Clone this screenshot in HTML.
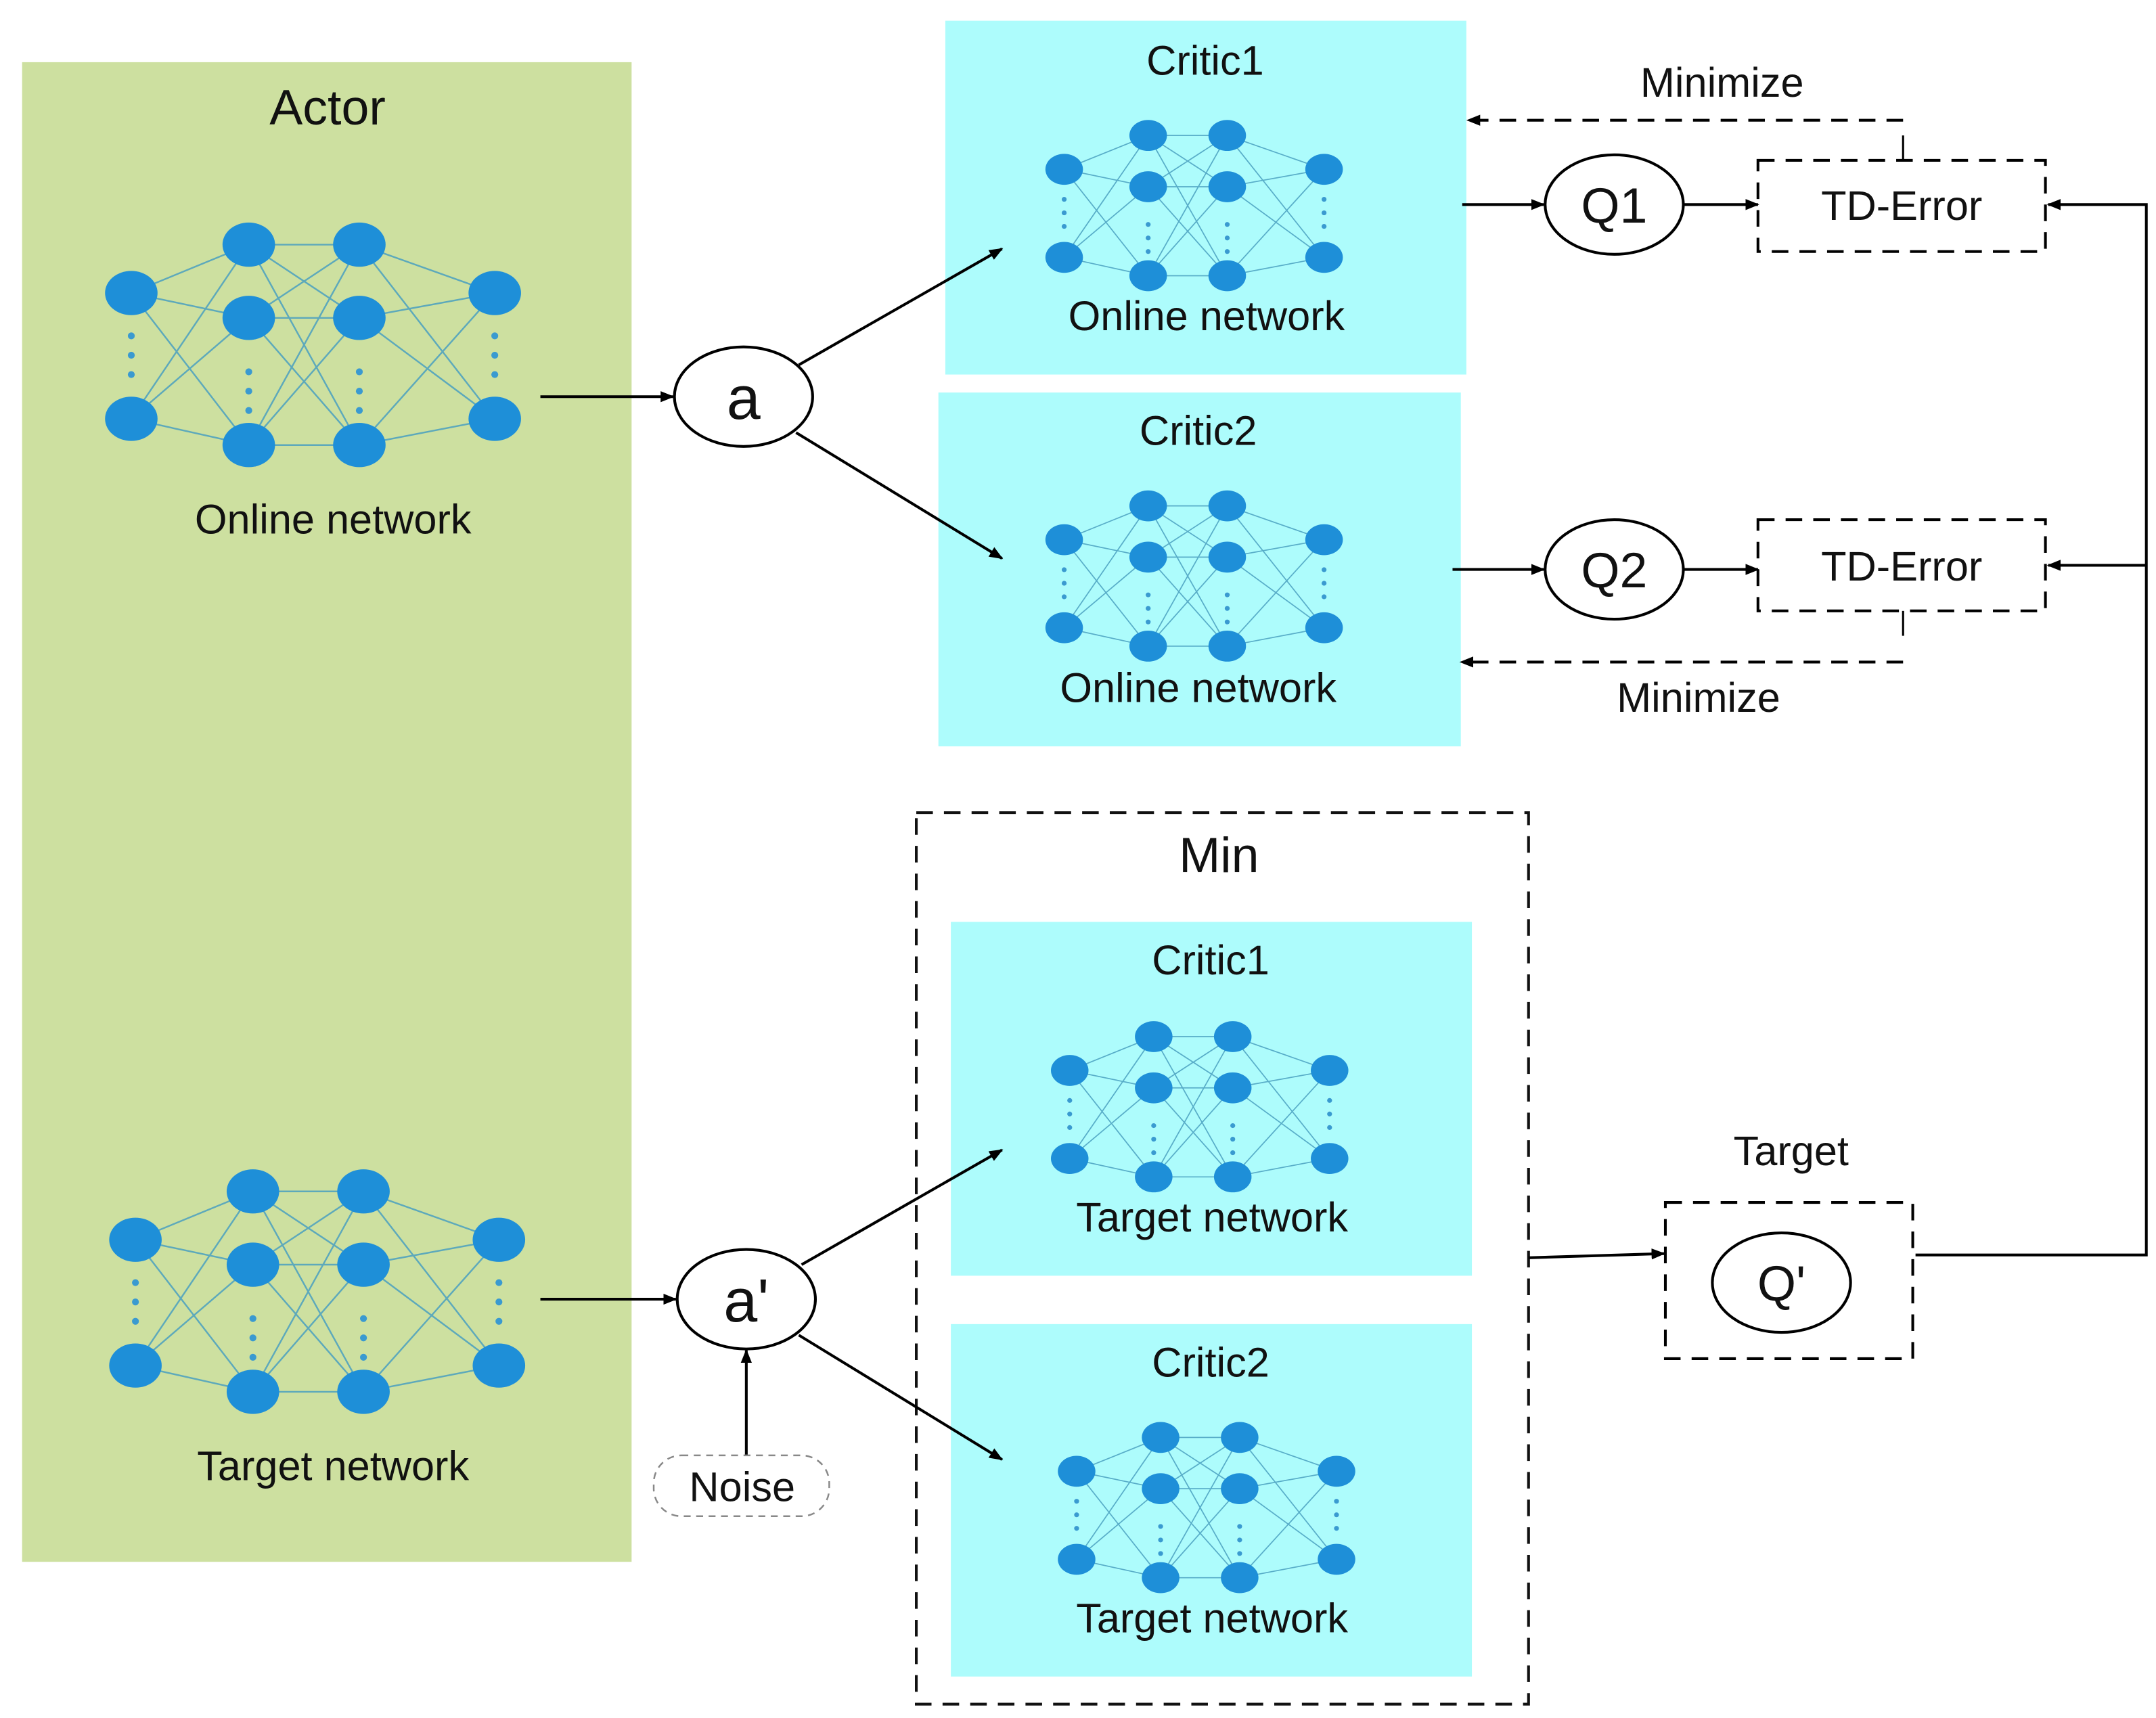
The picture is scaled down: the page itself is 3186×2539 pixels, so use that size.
<!DOCTYPE html>
<html><head><meta charset="utf-8"><style>
html,body{margin:0;padding:0;background:#fff}
svg{display:block}
text{font-family:"Liberation Sans Narrow","Liberation Sans",sans-serif;fill:#111}
</style></head><body>
<svg width="3186" height="2539" viewBox="0 0 1560 1243" preserveAspectRatio="none" xmlns="http://www.w3.org/2000/svg">
<defs>
<marker id="ar" markerWidth="10" markerHeight="10" refX="9" refY="5" orient="auto" markerUnits="userSpaceOnUse">
<path d="M0,1 L10,5 L0,9 Z" fill="#000"/></marker>
<g id="net">
<g stroke="#4aa0c0" stroke-width="1.2" opacity="0.85">
<path d="M0,35L85,0M0,35L85,53M0,35L85,145M0,126L85,0M0,126L85,53M0,126L85,145
M85,0L165,0M85,0L165,53M85,0L165,145M85,53L165,0M85,53L165,53M85,53L165,145M85,145L165,0M85,145L165,53M85,145L165,145
M165,0L263,35M165,0L263,126M165,53L263,35M165,53L263,126M165,145L263,35M165,145L263,126"/>
</g>
<g fill="#1e8fd8">
<ellipse cx="0" cy="35" rx="19" ry="16"/><ellipse cx="0" cy="126" rx="19" ry="16"/>
<ellipse cx="85" cy="0" rx="19" ry="16"/><ellipse cx="85" cy="53" rx="19" ry="16"/><ellipse cx="85" cy="145" rx="19" ry="16"/>
<ellipse cx="165" cy="0" rx="19" ry="16"/><ellipse cx="165" cy="53" rx="19" ry="16"/><ellipse cx="165" cy="145" rx="19" ry="16"/>
<ellipse cx="263" cy="35" rx="19" ry="16"/><ellipse cx="263" cy="126" rx="19" ry="16"/>
</g>
<g fill="#3a9ad0">
<circle cx="0" cy="66" r="2.5"/><circle cx="0" cy="80" r="2.5"/><circle cx="0" cy="94" r="2.5"/>
<circle cx="85" cy="92" r="2.5"/><circle cx="85" cy="106" r="2.5"/><circle cx="85" cy="120" r="2.5"/>
<circle cx="165" cy="92" r="2.5"/><circle cx="165" cy="106" r="2.5"/><circle cx="165" cy="120" r="2.5"/>
<circle cx="263" cy="66" r="2.5"/><circle cx="263" cy="80" r="2.5"/><circle cx="263" cy="94" r="2.5"/>
</g>
</g>
</defs>

<!-- Actor -->
<rect x="16" y="45" width="441" height="1085" fill="#cde0a0"/>
<text x="237" y="90" font-size="36" text-anchor="middle">Actor</text>
<use href="#net" transform="translate(95,177)"/>
<text x="241" y="386" font-size="30" text-anchor="middle">Online network</text>
<use href="#net" transform="translate(98,862)"/>
<text x="241" y="1071" font-size="30" text-anchor="middle">Target network</text>

<!-- Critics online -->
<rect x="684" y="15" width="377" height="256" fill="#adfcfc"/>
<text x="872" y="54" font-size="30" text-anchor="middle">Critic1</text>
<use href="#net" transform="translate(770,98) scale(0.715,0.70)"/>
<text x="873" y="239" font-size="30" text-anchor="middle">Online network</text>

<rect x="679" y="284" width="378" height="256" fill="#adfcfc"/>
<text x="867" y="322" font-size="30" text-anchor="middle">Critic2</text>
<use href="#net" transform="translate(770,366) scale(0.715,0.70)"/>
<text x="867" y="508" font-size="30" text-anchor="middle">Online network</text>

<!-- Min box -->
<rect x="663" y="588" width="443" height="645" fill="none" stroke="#111" stroke-width="2" stroke-dasharray="12,8"/>
<text x="882" y="631" font-size="36" text-anchor="middle">Min</text>
<rect x="688" y="667" width="377" height="256" fill="#adfcfc"/>
<text x="876" y="705" font-size="30" text-anchor="middle">Critic1</text>
<use href="#net" transform="translate(774,750) scale(0.715,0.70)"/>
<text x="877" y="891" font-size="30" text-anchor="middle">Target network</text>
<rect x="688" y="958" width="377" height="255" fill="#adfcfc"/>
<text x="876" y="996" font-size="30" text-anchor="middle">Critic2</text>
<use href="#net" transform="translate(779,1040) scale(0.715,0.70)"/>
<text x="877" y="1181" font-size="30" text-anchor="middle">Target network</text>

<!-- a nodes -->
<g stroke="#000" stroke-width="2" fill="none">
<line x1="391" y1="287" x2="487" y2="287" marker-end="url(#ar)"/>
<line x1="578" y1="264" x2="725" y2="180" marker-end="url(#ar)"/>
<line x1="576" y1="313" x2="725" y2="404" marker-end="url(#ar)"/>
<ellipse cx="538" cy="287" rx="50" ry="36" fill="#fff"/>
<line x1="391" y1="940" x2="489" y2="940" marker-end="url(#ar)"/>
<line x1="580" y1="915" x2="725" y2="832" marker-end="url(#ar)"/>
<line x1="578" y1="966" x2="725" y2="1056" marker-end="url(#ar)"/>
<ellipse cx="540" cy="940" rx="50" ry="36" fill="#fff"/>
<line x1="540" y1="1053" x2="540" y2="977" marker-end="url(#ar)"/>
</g>
<text x="538" y="303" font-size="44" text-anchor="middle">a</text>
<text x="540" y="956" font-size="44" text-anchor="middle">a'</text>
<rect x="473" y="1053" width="127" height="44" rx="20" fill="none" stroke="#888" stroke-width="1.2" stroke-dasharray="5,4"/>
<text x="537" y="1086" font-size="30" text-anchor="middle">Noise</text>

<!-- Q1 / Q2 -->
<g stroke="#000" stroke-width="2" fill="none">
<line x1="1058" y1="148" x2="1117" y2="148" marker-end="url(#ar)"/>
<line x1="1218" y1="148" x2="1272" y2="148" marker-end="url(#ar)"/>
<ellipse cx="1168" cy="148" rx="50" ry="36" fill="#fff"/>
<line x1="1051" y1="412" x2="1117" y2="412" marker-end="url(#ar)"/>
<line x1="1218" y1="412" x2="1272" y2="412" marker-end="url(#ar)"/>
<ellipse cx="1168" cy="412" rx="50" ry="36" fill="#fff"/>
<rect x="1272" y="116" width="208" height="66" stroke-dasharray="12,8"/>
<rect x="1272" y="376" width="208" height="66" stroke-dasharray="12,8"/>
<line x1="1377" y1="116" x2="1377" y2="98" stroke-width="1.5"/>
<polyline points="1377,87 1062,87" stroke-dasharray="12,8" marker-end="url(#ar)"/>
<line x1="1377" y1="442" x2="1377" y2="460" stroke-width="1.5"/>
<polyline points="1377,479 1057,479" stroke-dasharray="12,8" marker-end="url(#ar)"/>
<rect x="1205" y="870" width="179" height="113" stroke-dasharray="12,8"/>
<ellipse cx="1289" cy="928" rx="50" ry="36"/>
<line x1="1106" y1="910" x2="1204" y2="907" marker-end="url(#ar)"/>
<polyline points="1386,908 1553,908 1553,148 1482,148" marker-end="url(#ar)"/>
<line x1="1553" y1="409" x2="1482" y2="409" marker-end="url(#ar)"/>
</g>
<text x="1168" y="161" font-size="36" text-anchor="middle">Q1</text>
<text x="1168" y="425" font-size="36" text-anchor="middle">Q2</text>
<text x="1376" y="159" font-size="30" text-anchor="middle">TD-Error</text>
<text x="1376" y="420" font-size="30" text-anchor="middle">TD-Error</text>
<text x="1246" y="70" font-size="30" text-anchor="middle">Minimize</text>
<text x="1229" y="515" font-size="30" text-anchor="middle">Minimize</text>
<text x="1296" y="843" font-size="30" text-anchor="middle">Target</text>
<text x="1289" y="941" font-size="36" text-anchor="middle">Q'</text>
</svg>
</body></html>
